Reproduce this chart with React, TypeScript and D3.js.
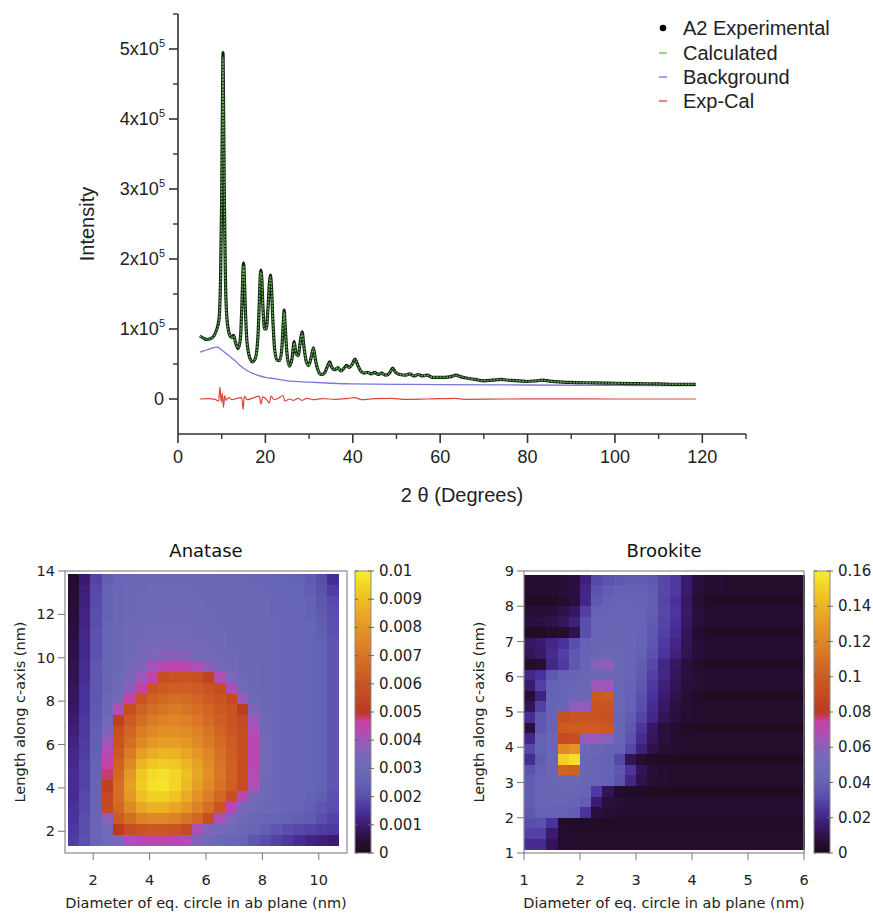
import React from "react";
import * as d3 from "d3";

// ---------------- XRD pattern (top panel) ----------------
const THETA = [
  5.0, 5.8, 6.6, 7.4, 8.2, 8.8, 9.4, 9.75, 10.0, 10.2,
  10.3, 10.4, 10.6, 10.85, 11.2, 11.8, 12.3, 12.7, 13.2, 13.8,
  14.3, 14.65, 14.85, 15.0, 15.15, 15.35, 15.7, 16.2, 17.0, 17.7,
  18.3, 18.65, 18.85, 19.0, 19.15, 19.45, 19.8, 20.2, 20.6, 20.95,
  21.15, 21.35, 21.7, 22.1, 22.7, 23.3, 23.8, 24.1, 24.3, 24.5,
  24.9, 25.5, 26.1, 26.6, 27.0, 27.5, 28.0, 28.4, 28.8, 29.3,
  29.9, 30.5, 31.0, 31.4, 32.0, 32.8, 33.6, 34.3, 34.7, 35.2,
  35.9, 36.6, 37.3, 38.0, 38.6, 39.2, 39.9, 40.5, 41.1, 41.8,
  42.6, 43.4, 44.2, 45.0, 45.8, 46.6, 47.5, 48.4, 49.1, 49.8,
  50.8, 52.0, 53.0, 54.0, 55.0, 56.0, 57.0, 58.3, 59.5, 61.0,
  62.5, 63.6, 64.6, 66.0, 68.0, 70.0, 72.0, 74.0, 76.0, 78.0,
  80.0, 82.0, 83.5, 85.0, 88.0, 91.0, 95.0, 100.0, 105.0, 110.0,
  114.0, 118.5,
];
// intensities in thousands of counts
const OBS = [
  90, 87, 85, 86, 90, 98, 115, 175, 290, 440,
  495, 440, 290, 175, 115, 92, 88, 91, 80, 72,
  88, 140, 180, 194, 180, 140, 90, 64, 53, 58,
  90, 145, 178, 184, 175, 130, 100, 100, 130, 168,
  177, 165, 115, 72, 55, 55, 75, 110, 127, 108,
  68, 47, 58, 82, 65, 62, 82, 96, 76, 55,
  48, 60, 73, 58, 42, 35, 38, 48, 53, 45,
  42, 45, 40, 44, 48, 45, 50, 57, 49, 40,
  37, 38, 36, 38, 35, 37, 34, 37, 44, 38,
  35, 34, 36, 33, 35, 33, 34, 31, 31, 31,
  32, 34, 32, 30, 28, 26, 27, 28, 26.5, 26,
  25, 26, 27, 25.5, 24, 23.5, 23, 22.5, 22, 21.5,
  21, 21,
];
const CALC = [
  90, 87, 85, 86, 90, 97, 113, 170, 295, 435,
  488, 435, 295, 170, 113, 92, 88, 90, 80, 73,
  88, 138, 182, 190, 182, 138, 90, 64, 53, 58,
  90, 143, 178, 181, 175, 128, 100, 100, 128, 166,
  174, 163, 115, 72, 55, 55, 75, 108, 124, 106,
  68, 47, 58, 80, 65, 62, 81, 94, 76, 55,
  48, 60, 72, 58, 42, 35, 38, 47, 52, 45,
  42, 45, 40, 44, 47, 45, 50, 56, 49, 40,
  37, 38, 36, 38, 35, 37, 34, 37, 43, 38,
  35, 34, 36, 33, 35, 33, 34, 31, 31, 31,
  32, 33.5, 32, 30, 28, 26, 27, 28, 26.5, 26,
  25, 26, 27, 25.5, 24, 23.5, 23, 22.5, 22, 21.5,
  21, 21,
];
const BG_THETA = [5, 6, 7, 8, 9, 10, 11, 12, 13, 14, 15, 16, 17, 18, 19, 20, 22, 25, 30, 35, 40, 50, 60, 80, 100, 118.5];
const BG = [67, 69, 71, 73, 74, 70, 65, 60, 55, 49, 44, 40, 37, 34.5, 32.5, 31, 29, 26, 24, 22.5, 21.5, 21, 20.5, 20, 19.5, 19];
const DIFF_THETA = [5, 7, 8.5, 9.3, 9.6, 9.9, 10.15, 10.4, 10.7, 11.0, 11.6, 12.4, 13.5, 14.6, 14.9, 15.2, 15.8, 17, 18.6, 19.0, 19.4, 20.3, 20.9, 21.3, 22, 23, 24.0, 24.5, 25.5, 26.5, 27.5, 28.4, 29.5, 31, 33, 36, 39, 40.5, 42, 45, 49, 52, 57, 63.5, 66, 75, 85, 100, 118.5];
const DIFF = [0, 0.5, -0.5, -3, 17, -4, 8, -12, 5, -2, 2, -1, 1, 2, -15, 4, -1, 1, 4, -7, 3, -1, -6, 4, -1, 1, 5, -3, 0, -2, 1, -2, 1, -1, 0.5, -0.5, 1, 2, -1, 0.5, 1, -0.5, 0, 1, -0.5, 0, 0.3, 0, 0];

const X_TICKS = [0, 20, 40, 60, 80, 100, 120];
const X_MINOR = [10, 30, 50, 70, 90, 110, 130];
const Y_TICKS = [0, 1, 2, 3, 4, 5]; // x 10^5
const Y_MINOR = [0.5, 1.5, 2.5, 3.5, 4.5, 5.5];
const LEGEND = ["A2 Experimental", "Calculated", "Background", "Exp-Cal"];

// ---------------- Anatase size distribution (values x 1e-4) ----------------
const ANATASE_X = [1.3, 1.7, 2.1, 2.5, 2.9, 3.3, 3.7, 4.1, 4.5, 4.9, 5.3, 5.7, 6.1, 6.5, 6.9, 7.3, 7.7, 8.1, 8.5, 8.9, 9.3, 9.7, 10.1, 10.5];
const ANATASE_Y = [13.6, 13.1, 12.6, 12.1, 11.6, 11.1, 10.6, 10.1, 9.6, 9.1, 8.6, 8.1, 7.6, 7.1, 6.6, 6.1, 5.6, 5.1, 4.6, 4.1, 3.6, 3.1, 2.6, 2.1, 1.6];
const ANATASE_Z = [
  [3, 10, 18, 24, 27, 28, 29, 29, 29, 29, 29, 29, 29, 28, 28, 28, 27, 27, 26, 26, 25, 23, 20, 14],
  [3, 11, 19, 25, 28, 29, 29, 30, 30, 30, 30, 29, 29, 29, 28, 28, 28, 27, 27, 26, 26, 24, 21, 17],
  [4, 11, 19, 25, 28, 29, 30, 30, 30, 30, 30, 30, 29, 29, 29, 28, 28, 28, 27, 27, 26, 25, 22, 19],
  [4, 12, 20, 25, 28, 29, 30, 30, 31, 31, 30, 30, 30, 29, 29, 28, 28, 28, 27, 27, 26, 25, 23, 20],
  [5, 12, 20, 26, 28, 30, 30, 31, 31, 31, 31, 30, 30, 29, 29, 29, 28, 28, 28, 27, 27, 26, 24, 21],
  [5, 13, 21, 26, 29, 30, 31, 32, 32, 32, 32, 31, 30, 30, 29, 29, 28, 28, 28, 27, 27, 26, 24, 21],
  [6, 13, 21, 26, 29, 30, 32, 33, 34, 34, 33, 32, 31, 30, 29, 29, 28, 28, 28, 27, 27, 26, 25, 22],
  [6, 13, 21, 26, 29, 31, 33, 35, 37, 38, 37, 34, 32, 31, 30, 29, 28, 28, 28, 27, 27, 26, 25, 22],
  [7, 14, 22, 26, 29, 32, 36, 41, 44, 45, 44, 42, 38, 33, 31, 29, 29, 28, 28, 27, 27, 26, 25, 22],
  [7, 14, 22, 27, 30, 34, 40, 46, 58, 60, 60, 59, 54, 42, 34, 30, 29, 28, 28, 27, 27, 26, 25, 22],
  [8, 15, 22, 27, 31, 38, 46, 60, 62, 64, 63, 62, 60, 58, 42, 32, 29, 28, 28, 27, 27, 26, 25, 22],
  [8, 15, 22, 28, 34, 46, 60, 64, 66, 68, 67, 65, 62, 60, 56, 40, 30, 29, 28, 27, 27, 26, 25, 22],
  [9, 15, 23, 29, 42, 58, 64, 68, 70, 72, 70, 68, 65, 62, 60, 51, 36, 29, 28, 27, 27, 26, 25, 22],
  [10, 16, 23, 32, 52, 62, 68, 72, 74, 75, 74, 71, 67, 63, 60, 56, 40, 30, 28, 27, 27, 26, 25, 22],
  [11, 16, 24, 36, 58, 65, 72, 76, 78, 78, 77, 74, 70, 65, 61, 58, 43, 31, 28, 27, 27, 26, 25, 22],
  [12, 17, 24, 40, 60, 68, 76, 80, 82, 82, 80, 77, 72, 67, 62, 58, 44, 32, 28, 27, 27, 26, 25, 22],
  [13, 17, 25, 44, 62, 72, 82, 86, 88, 87, 84, 80, 75, 69, 63, 58, 44, 32, 28, 27, 27, 26, 25, 22],
  [13, 18, 25, 46, 64, 76, 88, 92, 93, 92, 88, 83, 77, 70, 64, 58, 44, 32, 28, 27, 27, 26, 25, 22],
  [14, 18, 26, 48, 66, 80, 92, 96, 97, 95, 90, 84, 78, 71, 64, 58, 43, 32, 28, 27, 27, 26, 25, 22],
  [14, 18, 26, 52, 68, 82, 93, 97, 98, 95, 89, 82, 76, 69, 63, 57, 42, 31, 28, 27, 27, 26, 25, 22],
  [14, 19, 26, 55, 68, 80, 90, 94, 94, 91, 85, 79, 73, 66, 58, 44, 35, 30, 28, 27, 26, 25, 24, 21],
  [15, 19, 27, 56, 66, 76, 84, 87, 87, 84, 80, 74, 68, 60, 44, 34, 30, 29, 28, 27, 26, 24, 22, 20],
  [15, 20, 27, 38, 62, 68, 74, 76, 76, 74, 70, 66, 58, 42, 34, 30, 28, 27, 26, 25, 24, 23, 20, 18],
  [16, 20, 27, 32, 50, 58, 60, 61, 61, 60, 56, 42, 36, 32, 30, 28, 26, 24, 22, 20, 19, 18, 17, 16],
  [17, 21, 27, 30, 34, 42, 44, 45, 45, 44, 42, 36, 31, 29, 27, 26, 22, 20, 18, 16, 14, 12, 11, 10],
];

// ---------------- Brookite size distribution (values x 1e-3) ----------------
const BROOKITE_X = [1.1, 1.3, 1.5, 1.7, 1.9, 2.1, 2.3, 2.5, 2.7, 2.9, 3.1, 3.3, 3.5, 3.7, 3.9, 4.1, 4.3, 4.5, 4.7, 4.9, 5.1, 5.3, 5.5, 5.7, 5.9];
const BROOKITE_Y = [8.75, 8.45, 8.15, 7.85, 7.55, 7.25, 6.95, 6.65, 6.35, 6.05, 5.75, 5.45, 5.15, 4.85, 4.55, 4.25, 3.95, 3.65, 3.35, 3.05, 2.75, 2.45, 2.15, 1.85, 1.55, 1.25];
const BROOKITE_Z = [
  [5, 5, 5, 6, 8, 18, 30, 34, 36, 37, 37, 36, 30, 26, 16, 8, 5, 5, 4, 4, 4, 4, 4, 4, 4],
  [5, 5, 5, 6, 9, 20, 34, 38, 40, 40, 40, 38, 30, 26, 16, 8, 5, 5, 4, 4, 4, 4, 4, 4, 4],
  [3, 3, 3, 4, 8, 20, 36, 40, 42, 42, 41, 38, 29, 24, 14, 6, 3, 2, 2, 2, 2, 2, 2, 2, 2],
  [6, 6, 7, 10, 14, 28, 40, 42, 43, 43, 42, 38, 30, 25, 15, 8, 5, 5, 5, 5, 5, 5, 5, 5, 5],
  [8, 9, 10, 13, 18, 32, 42, 43, 44, 44, 42, 37, 29, 24, 14, 8, 5, 5, 5, 5, 5, 5, 5, 5, 5],
  [3, 3, 4, 5, 10, 32, 42, 44, 44, 44, 42, 36, 28, 22, 12, 5, 3, 2, 2, 2, 2, 2, 2, 2, 2],
  [14, 16, 20, 24, 32, 40, 43, 44, 44, 44, 41, 35, 26, 20, 12, 7, 5, 5, 5, 5, 5, 5, 5, 5, 5],
  [12, 15, 22, 28, 36, 42, 44, 45, 45, 44, 40, 33, 24, 18, 11, 7, 5, 5, 5, 5, 5, 5, 5, 5, 5],
  [4, 6, 20, 26, 36, 42, 58, 60, 45, 43, 38, 30, 20, 14, 8, 4, 2, 2, 2, 2, 2, 2, 2, 2, 2],
  [20, 24, 36, 40, 42, 44, 46, 46, 45, 42, 37, 28, 20, 13, 9, 6, 5, 5, 5, 5, 5, 5, 5, 5, 5],
  [16, 28, 40, 42, 44, 45, 64, 64, 45, 41, 35, 26, 18, 12, 8, 6, 5, 5, 5, 5, 5, 5, 5, 5, 5],
  [6, 18, 40, 43, 45, 46, 98, 100, 44, 40, 33, 24, 16, 10, 6, 3, 2, 2, 2, 2, 2, 2, 2, 2, 2],
  [12, 28, 42, 44, 60, 62, 96, 96, 45, 40, 32, 22, 14, 9, 6, 4, 4, 4, 4, 4, 4, 4, 4, 4, 4],
  [22, 36, 42, 94, 96, 96, 96, 94, 44, 38, 29, 20, 12, 8, 5, 4, 4, 4, 4, 4, 4, 4, 4, 4, 4],
  [8, 36, 42, 100, 100, 100, 100, 98, 44, 36, 25, 14, 8, 5, 3, 2, 2, 2, 2, 2, 2, 2, 2, 2, 2],
  [20, 40, 44, 90, 92, 62, 62, 58, 43, 34, 22, 13, 8, 5, 4, 4, 4, 4, 4, 4, 4, 4, 4, 4, 4],
  [30, 40, 44, 122, 126, 46, 44, 42, 40, 30, 18, 10, 6, 5, 4, 4, 4, 4, 4, 4, 4, 4, 4, 4, 4],
  [22, 38, 44, 150, 155, 44, 42, 40, 30, 12, 5, 3, 2, 2, 2, 2, 2, 2, 2, 2, 2, 2, 2, 2, 2],
  [34, 40, 44, 104, 102, 44, 42, 40, 36, 25, 12, 7, 5, 4, 4, 4, 4, 4, 4, 4, 4, 4, 4, 4, 4],
  [38, 42, 44, 46, 46, 44, 42, 40, 34, 20, 10, 6, 5, 4, 4, 4, 4, 4, 4, 4, 4, 4, 4, 4, 4],
  [38, 42, 44, 44, 44, 42, 26, 12, 4, 3, 3, 2, 2, 2, 2, 2, 2, 2, 2, 2, 2, 2, 2, 2, 2],
  [38, 42, 44, 44, 42, 38, 16, 8, 6, 5, 5, 5, 5, 5, 5, 5, 5, 5, 5, 5, 5, 5, 5, 5, 5],
  [36, 40, 42, 40, 38, 24, 8, 6, 5, 5, 5, 5, 5, 5, 5, 5, 5, 5, 5, 5, 5, 5, 5, 5, 5],
  [32, 34, 24, 4, 3, 3, 3, 3, 3, 3, 3, 3, 3, 3, 3, 3, 3, 3, 3, 3, 3, 3, 3, 3, 3],
  [28, 28, 16, 5, 4, 4, 4, 4, 4, 4, 4, 4, 4, 4, 4, 4, 4, 4, 4, 4, 4, 4, 4, 4, 4],
  [22, 22, 12, 4, 4, 4, 4, 4, 4, 4, 4, 4, 4, 4, 4, 4, 4, 4, 4, 4, 4, 4, 4, 4, 4],
];

const ANATASE_CB = ["0", "0.001", "0.002", "0.003", "0.004", "0.005", "0.006", "0.007", "0.008", "0.009", "0.01"];
const BROOKITE_CB = ["0", "0.02", "0.04", "0.06", "0.08", "0.1", "0.12", "0.14", "0.16"];

const PALETTE_T = [0, 0.05, 0.1, 0.15, 0.2, 0.25, 0.3, 0.35, 0.4, 0.44, 0.47, 0.485, 0.5, 0.6, 0.7, 0.8, 0.9, 1.0];
const PALETTE_C = ["#1c0a1a", "#2a0f3e", "#3b1a70", "#4a329c", "#5a4eac", "#6462b4", "#6e6ab8", "#7c66ba", "#9c58ba", "#bb48b0", "#c8409c", "#c43a58", "#bb3a22", "#c95422", "#d87426", "#e49626", "#efbd24", "#f7ee2c"];

const HFONT = "DejaVu Sans, Verdana, sans-serif";
const TFONT = "Liberation Sans, Arial, Helvetica, sans-serif";

type HMProps = {
  id: string; title: string; left: number; right: number; top: number; bottom: number;
  xDomain: [number, number]; yDomain: [number, number];
  xs: number[]; ys: number[]; z: number[][]; unit: number; zMax: number;
  xTicks: number[]; yTicks: number[]; cbLeft: number; cbLabels: string[];
};

function Heatmap(p: HMProps) {
  const x = d3.scaleLinear().domain(p.xDomain).range([p.left, p.right]);
  const y = d3.scaleLinear().domain(p.yDomain).range([p.bottom, p.top]);
  const dx = Math.abs(p.xs[1] - p.xs[0]);
  const dy = Math.abs(p.ys[1] - p.ys[0]);
  const color = d3.scaleLinear<string>().domain(PALETTE_T.map((t) => t * p.zMax)).range(PALETTE_C).interpolate(d3.interpolateRgb).clamp(true);
  const cb = d3.scaleLinear().domain([0, p.zMax]).range([p.bottom, p.top]);
  const cbW = 16;
  const cells: React.ReactNode[] = [];
  p.z.forEach((row, i) => {
    row.forEach((v, j) => {
      const x0 = x(p.xs[j] - dx / 2), x1 = x(p.xs[j] + dx / 2);
      const y0 = y(p.ys[i] + dy / 2), y1 = y(p.ys[i] - dy / 2);
      cells.push(<rect key={`${i}-${j}`} x={x0} y={y0} width={x1 - x0 + 0.5} height={y1 - y0 + 0.5} fill={color(v * p.unit)} />);
    });
  });
  const cx = (p.left + p.right) / 2;
  const cy = (p.top + p.bottom) / 2;
  const cbStep = p.zMax / (p.cbLabels.length - 1);
  return (
    <g>
      <defs>
        <linearGradient id={p.id} x1="0" y1="1" x2="0" y2="0">
          {PALETTE_T.map((t, i) => <stop key={i} offset={t} stopColor={PALETTE_C[i]} />)}
        </linearGradient>
      </defs>
      <text x={cx} y={p.top - 14} textAnchor="middle" fontFamily={HFONT} fontSize={18} fill="#111">{p.title}</text>
      <g shapeRendering="crispEdges">{cells}</g>
      <rect x={p.left} y={p.top} width={p.right - p.left} height={p.bottom - p.top} fill="none" stroke="#8a8a8a" strokeWidth={1.2} />
      {p.yTicks.map((t) => (
        <g key={`y${t}`}>
          <line x1={p.left - 7} x2={p.left} y1={y(t)} y2={y(t)} stroke="#777" strokeWidth={1} />
          <text x={p.left - 10} y={y(t) + 5} textAnchor="end" fontFamily={HFONT} fontSize={14.5} fill="#222">{t}</text>
        </g>
      ))}
      {p.xTicks.map((t) => (
        <g key={`x${t}`}>
          <line x1={x(t)} x2={x(t)} y1={p.bottom} y2={p.bottom + 7} stroke="#777" strokeWidth={1} />
          <text x={x(t)} y={p.bottom + 32} textAnchor="middle" fontFamily={HFONT} fontSize={14.5} fill="#222">{t}</text>
        </g>
      ))}
      <text x={cx} y={p.bottom + 55} textAnchor="middle" fontFamily={HFONT} fontSize={14.5} fill="#222">Diameter of eq. circle in ab plane (nm)</text>
      <text transform={`translate(${p.left - 40},${cy}) rotate(-90)`} textAnchor="middle" fontFamily={HFONT} fontSize={14.5} fill="#222">Length along c-axis (nm)</text>
      <rect x={p.cbLeft} y={p.top} width={cbW} height={p.bottom - p.top} fill={`url(#${p.id})`} stroke="#8a8a8a" strokeWidth={1} />
      {p.cbLabels.map((l, i) => {
        const yy = cb(i * cbStep);
        return (
          <g key={`c${i}`}>
            <line x1={p.cbLeft} x2={p.cbLeft + 3} y1={yy} y2={yy} stroke="#666" strokeWidth={1} />
            <line x1={p.cbLeft + cbW - 3} x2={p.cbLeft + cbW + 3} y1={yy} y2={yy} stroke="#666" strokeWidth={1} />
            <text x={p.cbLeft + cbW + 8} y={yy + 5} fontFamily={HFONT} fontSize={15} fill="#222">{l}</text>
          </g>
        );
      })}
    </g>
  );
}

export default function App() {
  const W = 873, H = 913;
  const xT = d3.scaleLinear().domain([0, 130]).range([178, 746]);
  const yT = d3.scaleLinear().domain([-50000, 550000]).range([434, 14]);
  const mk = (xs: number[]) =>
    d3.line<number>().x((_, i) => xT(xs[i])).y((d) => yT(d * 1000)).curve(d3.curveMonotoneX);
  const obsPath = mk(THETA)(OBS) || "";
  const calcPath = mk(THETA)(CALC) || "";
  const bgPath = mk(BG_THETA)(BG) || "";
  const diffPath = mk(DIFF_THETA)(DIFF) || "";
  const legendY = [28, 53, 77, 101];
  const legendColors = ["#000", "#79c86a", "#8a84d8", "#e0604e"];

  return (
    <svg width={W} height={H} style={{ position: "absolute", left: 0, top: 0, background: "#fff" }}>
      {/* top panel */}
      <path d={bgPath} fill="none" stroke="#7b76d8" strokeWidth={1.3} />
      <path d={diffPath} fill="none" stroke="#d9483b" strokeWidth={1.2} />
      <path d={obsPath} fill="none" stroke="#142414" strokeWidth={3.2} strokeLinejoin="round" />
      <path d={calcPath} fill="none" stroke="#5fb24e" strokeWidth={1.4} strokeDasharray="2 1.2" />
      <line x1={178} x2={178} y1={14} y2={434} stroke="#333" strokeWidth={1.6} />
      <line x1={178} x2={746} y1={434} y2={434} stroke="#333" strokeWidth={1.6} />
      {Y_TICKS.map((t) => (
        <g key={`yt${t}`}>
          <line x1={169} x2={178} y1={yT(t * 1e5)} y2={yT(t * 1e5)} stroke="#333" strokeWidth={1.6} />
          {t === 0 ? (
            <text x={164} y={yT(0) + 6} textAnchor="end" fontFamily={TFONT} fontSize={18} fill="#222">0</text>
          ) : (
            <text x={165} y={yT(t * 1e5) + 6} textAnchor="end" fontFamily={TFONT} fontSize={18} fill="#222">
              {`${t}x10`}
              <tspan dy={-8} fontSize={11}>5</tspan>
            </text>
          )}
        </g>
      ))}
      {Y_MINOR.map((t) => (
        <line key={`ym${t}`} x1={173} x2={178} y1={yT(t * 1e5)} y2={yT(t * 1e5)} stroke="#333" strokeWidth={1.4} />
      ))}
      {X_TICKS.map((t) => (
        <g key={`xt${t}`}>
          <line x1={xT(t)} x2={xT(t)} y1={434} y2={443} stroke="#333" strokeWidth={1.6} />
          <text x={xT(t)} y={463} textAnchor="middle" fontFamily={TFONT} fontSize={18} fill="#222">{t}</text>
        </g>
      ))}
      {X_MINOR.map((t) => (
        <line key={`xm${t}`} x1={xT(t)} x2={xT(t)} y1={434} y2={439} stroke="#333" strokeWidth={1.4} />
      ))}
      <text x={462} y={502} textAnchor="middle" fontFamily={TFONT} fontSize={20} fill="#222">2 θ (Degrees)</text>
      <text transform="translate(94,224) rotate(-90)" textAnchor="middle" fontFamily={TFONT} fontSize={20} fill="#222">Intensity</text>
      {LEGEND.map((l, i) => (
        <g key={l}>
          {i === 0 ? (
            <circle cx={663} cy={legendY[i]} r={3.3} fill="#000" />
          ) : (
            <line x1={659} x2={667} y1={legendY[i]} y2={legendY[i]} stroke={legendColors[i]} strokeWidth={1.5} />
          )}
          <text x={683} y={legendY[i] + 7} fontFamily={TFONT} fontSize={20} fill="#222">{l}</text>
        </g>
      ))}

      <Heatmap id="gA" title="Anatase" left={65} right={347} top={571} bottom={853}
        xDomain={[1, 11]} yDomain={[1, 14]} xs={ANATASE_X} ys={ANATASE_Y} z={ANATASE_Z} unit={1e-4} zMax={0.01}
        xTicks={[2, 4, 6, 8, 10]} yTicks={[2, 4, 6, 8, 10, 12, 14]} cbLeft={355} cbLabels={ANATASE_CB} />
      <Heatmap id="gB" title="Brookite" left={524} right={804} top={571} bottom={853}
        xDomain={[1, 6]} yDomain={[1, 9]} xs={BROOKITE_X} ys={BROOKITE_Y} z={BROOKITE_Z} unit={1e-3} zMax={0.16}
        xTicks={[1, 2, 3, 4, 5, 6]} yTicks={[1, 2, 3, 4, 5, 6, 7, 8, 9]} cbLeft={814} cbLabels={BROOKITE_CB} />
    </svg>
  );
}
